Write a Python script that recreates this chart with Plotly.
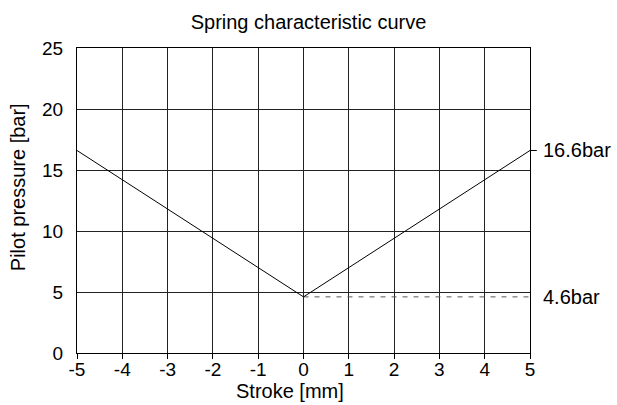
import plotly.graph_objects as go

# Spring characteristic: pilot pressure vs stroke
stroke_mm = [-5, 0, 5]
pressure_bar = [16.6, 4.6, 16.6]

# Reference level for the minimum pressure
ref_stroke = [0, 5]
ref_pressure = [4.6, 4.6]

x_ticks = list(range(-5, 6))
y_ticks = [0, 5, 10, 15, 20, 25]

font = "Liberation Sans, Arial, sans-serif"

fig = go.Figure()
fig.add_trace(go.Scatter(x=ref_stroke, y=ref_pressure, mode="lines",
                         line=dict(color="#555555", width=1, dash="5px,6px"),
                         hoverinfo="skip"))
fig.add_trace(go.Scatter(x=stroke_mm, y=pressure_bar, mode="lines",
                         line=dict(color="black", width=1)))

# Value labels to the right of the plot area
fig.add_annotation(x=1, xref="paper", y=pressure_bar[-1], yref="y",
                   text=f"{pressure_bar[-1]}bar", showarrow=False,
                   xanchor="left", xshift=11, font=dict(size=20, color="black", family=font))
fig.add_annotation(x=1, xref="paper", y=ref_pressure[-1], yref="y",
                   text=f"{ref_pressure[-1]}bar", showarrow=False,
                   xanchor="left", xshift=11, font=dict(size=20, color="black", family=font))
# short leader from the curve end to its label
fig.add_shape(type="line", xref="paper", yref="y", x0=1, x1=1.015,
              y0=pressure_bar[-1], y1=pressure_bar[-1], line=dict(color="black", width=1))

# Axis titles
fig.add_annotation(x=0.47, xref="paper", y=0, yref="paper", yshift=-38,
                   text="Stroke [mm]", showarrow=False, xanchor="center", yanchor="middle",
                   font=dict(size=20, color="black", family=font))
fig.add_annotation(x=-0.13, xref="paper", y=0.544, yref="paper", textangle=-90,
                   text="Pilot pressure [bar]", showarrow=False, xanchor="center", yanchor="middle",
                   font=dict(size=20, color="black", family=font))

fig.update_layout(
    width=617, height=405,
    margin=dict(l=77, r=87, t=48, b=52),
    paper_bgcolor="white", plot_bgcolor="white",
    showlegend=False,
    font=dict(family=font, color="black"),
    title=dict(text="Spring characteristic curve", x=0.5, xref="container", xanchor="center",
               y=0.946, yanchor="middle", font=dict(size=20)),
    xaxis=dict(range=[-5, 5], tickvals=x_ticks, ticktext=[str(v) for v in x_ticks],
               showgrid=True, gridcolor="#222222", gridwidth=1,
               showline=True, linecolor="black", linewidth=1, mirror=True,
               ticks="outside", ticklen=5, tickcolor="black",
               tickfont=dict(size=19), zeroline=False, automargin=False,
               ticklabelstandoff=-6),
    yaxis=dict(range=[0, 25], tickvals=y_ticks,
               showgrid=True, gridcolor="#222222", gridwidth=1,
               showline=True, linecolor="black", linewidth=1, mirror=True,
               ticks="", tickfont=dict(size=19), zeroline=False,
               ticklabelstandoff=9, automargin=False),
)

fig.write_html("out.html")
